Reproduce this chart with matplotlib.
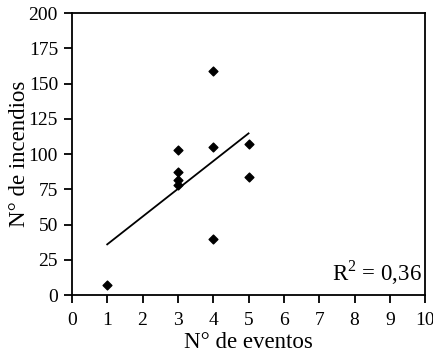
import numpy as np
import matplotlib
matplotlib.use('Agg')
import matplotlib.pyplot as plt

plt.rcParams['font.family'] = ['Liberation Serif', 'DejaVu Serif']
plt.rcParams['mathtext.fontset'] = 'custom'
plt.rcParams['mathtext.rm'] = 'Liberation Serif'

# datos
eventos = [1, 3, 3, 3, 3, 4, 4, 4, 5, 5]
incendios = [7, 103, 87, 82, 78, 159, 105, 40, 107, 84]
r2_texto = 'R$^2$ = 0,36'

fig = plt.figure(figsize=(4.33, 3.56), dpi=100)
ax = fig.add_axes([0.166, 0.171, 0.816, 0.792])

ax.scatter(eventos, incendios, marker='D', s=20, color='black', zorder=3)

# recta de regresion
m, b = np.polyfit(eventos, incendios, 1)
xr = np.array([min(eventos), max(eventos)])
ax.plot(xr, m * xr + b, color='black', lw=1.3)

ax.set_xlim(0, 10)
ax.set_ylim(0, 200)
ax.set_xticks(range(0, 11))
ax.set_yticks(range(0, 201, 25))
ax.tick_params(direction='out', length=6, width=1.3, labelsize=14)
ax.tick_params(axis='x', pad=6.5)
ax.tick_params(axis='y', pad=4)
for s in ax.spines.values():
    s.set_linewidth(1.3)

ax.set_xlabel('N° de eventos', fontsize=16.5, labelpad=2)
ax.set_ylabel('N° de incendios', fontsize=16.5, labelpad=-1)
ax.text(0.99, 0.03, r2_texto, transform=ax.transAxes, ha='right', va='bottom', fontsize=16.5)

fig.savefig('out.png', dpi=100)
